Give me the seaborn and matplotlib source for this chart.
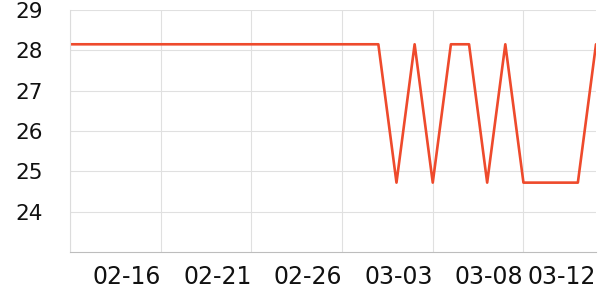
import matplotlib
matplotlib.use("Agg")
import matplotlib.pyplot as plt
import seaborn as sns
import pandas as pd

dates = pd.date_range("2023-02-11", "2023-03-12", freq="D")
values = [28.15] * 18 + [24.72, 28.15, 24.72, 28.15, 28.15, 24.72, 28.15,
                         24.72, 24.72, 24.72, 24.72, 28.15]
tick_dates = ["2023-02-11", "2023-02-16", "2023-02-21", "2023-02-26", "2023-03-03", "2023-03-08"]
tick_labels = ["", "02-16", "02-21", "02-26", "03-03", "03-08"]
end_label = "03-12"
y_ticks = [24, 25, 26, 27, 28, 29]

df = pd.DataFrame({"date": dates, "value": values})

sns.set_theme(style="white")
plt.rcParams["font.family"] = ["DejaVu Sans"]

fig = plt.figure(figsize=(6, 3), dpi=100)
ax = fig.add_axes([70 / 600, 1 - 252 / 300, (596 - 70) / 600, (252 - 10) / 300])

sns.lineplot(data=df, x="date", y="value", ax=ax, color="#ee4a2c", linewidth=1.9)

ax.set_xlim(dates[0], dates[-1])
ax.set_ylim(23, 29)
ax.set_yticks(y_ticks)
ax.set_yticklabels([str(v) for v in y_ticks])
ax.set_xticks(pd.to_datetime(tick_dates))
ax.set_xticklabels(tick_labels, ha="right")
ax.set_xticks([dates[-1]], minor=True)
ax.set_xticklabels([end_label], minor=True, ha="right")
ax.set_xlabel("")
ax.set_ylabel("")

ax.grid(True, which="major", color="#e0e0e0", linewidth=0.8)
for s in ["top", "right"]:
    ax.spines[s].set_visible(False)
ax.spines["left"].set_color("#dcdcdc")
ax.spines["left"].set_linewidth(0.8)
ax.spines["bottom"].set_color("#bdbdbd")
ax.spines["bottom"].set_linewidth(0.8)

ax.tick_params(axis="y", length=0, pad=19.5, labelsize=15.5, labelcolor="#111111")
ax.tick_params(axis="x", which="major", length=3.5, width=0.8, color="#bdbdbd",
               pad=5.5, labelsize=17, labelcolor="#111111", direction="out")
ax.tick_params(axis="x", which="minor", length=0, pad=9, labelsize=17,
               labelcolor="#111111")

fig.savefig("out.png", dpi=100)
